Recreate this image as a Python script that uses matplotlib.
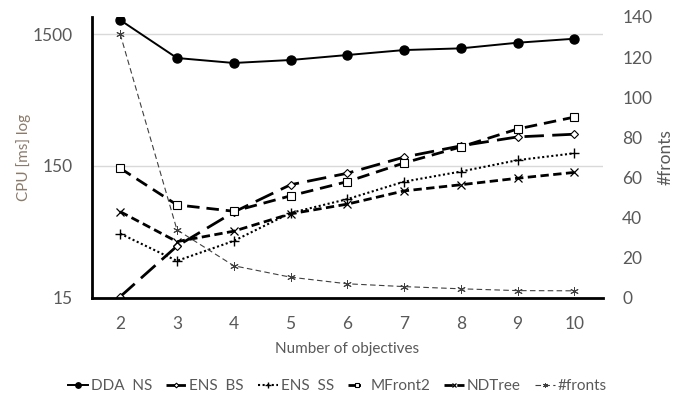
import matplotlib
matplotlib.use("Agg")
import matplotlib.pyplot as plt

# ── Dados ─────────────────────────────────────────────
objectives = [2, 3, 4, 5, 6, 7, 8, 9, 10]

dda_ns  = [1914, 987, 905, 953, 1040, 1134, 1168, 1289, 1382]
ens_bs  = [15.3, 37, 67, 108, 132, 175, 213, 249, 261]
ens_ss  = [46, 28.6, 40.5, 66, 84, 114, 136, 166, 187]
mfront2 = [144, 76, 68, 89, 114, 158, 209, 286, 352]
ndtree  = [67.5, 40, 48, 65, 77, 97, 108, 121, 134]
fronts  = [131.5, 33.9, 16, 10.3, 7, 5.6, 4.5, 3.6, 3.5]

left_ticks  = [15, 150, 1500]
right_ticks = [0, 20, 40, 60, 80, 100, 120, 140]

plt.rcParams["font.family"] = ["Lato", "DejaVu Sans"]
GRAY = "#595959"

fig = plt.figure(figsize=(6.75, 3.95), dpi=100)
ax = fig.add_axes([0.136, 0.246, 0.757, 0.711])
ax2 = ax.twinx()

ax.plot(objectives, dda_ns, color="black", lw=1.4, marker="o", ms=6.5,
        label="DDA  NS")
ax.plot(objectives, ens_bs, color="black", lw=2, dashes=(7, 3), marker="D",
        ms=4, mfc="white", mew=0.8, label="ENS  BS")
ax.plot(objectives, ens_ss, color="black", lw=1.5, ls=(0, (1, 1.2)), marker="+",
        ms=7, mew=1, label="ENS  SS")
ax.plot(objectives, mfront2, color="black", lw=2, dashes=(4.5, 2.5), marker="s",
        ms=6, mfc="white", mew=0.8, label="MFront2")
ax.plot(objectives, ndtree, color="black", lw=2, dashes=(3, 1.6), marker="x",
        ms=6, mew=0.9, label="NDTree")
ax2.plot(objectives, fronts, color="#404040", lw=0.8, dashes=(5, 3), marker=(6, 2, 0),
         ms=6, mew=0.7, label="#fronts")

# ── Eixos ─────────────────────────────────────────────
ax.set_yscale("log")
ax.set_ylim(15, 2020)
ax.set_xlim(1.5, 10.5)
ax.set_yticks(left_ticks)
ax.set_yticklabels([str(t) for t in left_ticks])
ax.minorticks_off()
ax.yaxis.grid(True, color="#d9d9d9", lw=1)
ax.set_axisbelow(True)
ax.set_xticks(objectives)

ax2.set_ylim(0, 140)
ax2.set_yticks(right_ticks)

for a in (ax, ax2):
    a.tick_params(length=0, labelsize=12.5, colors=GRAY)
    for s in a.spines.values():
        s.set_visible(False)
ax.spines["left"].set_visible(True)
ax.spines["bottom"].set_visible(True)
ax.spines["left"].set_linewidth(2)
ax.spines["bottom"].set_linewidth(2)
ax.tick_params(axis="y", pad=14)
ax.tick_params(axis="x", pad=13)
ax2.tick_params(axis="y", pad=14)

ax.set_xlabel("Number of objectives", fontsize=11, color=GRAY, labelpad=7)
ax.set_ylabel("CPU [ms] log", fontsize=11, color="#8a7a6a", labelpad=1)
ax2.set_ylabel("#fronts", fontsize=12.5, color=GRAY, labelpad=4)

h1, l1 = ax.get_legend_handles_labels()
h2, l2 = ax2.get_legend_handles_labels()
fig.legend(h1 + h2, l1 + l2, loc="lower center", ncol=6, frameon=False,
           fontsize=11, labelcolor=GRAY, handlelength=1.3, handletextpad=0.2,
           columnspacing=0.9, markerscale=0.6, bbox_to_anchor=(0.5, -0.03))

fig.savefig("out.png", dpi=100)
